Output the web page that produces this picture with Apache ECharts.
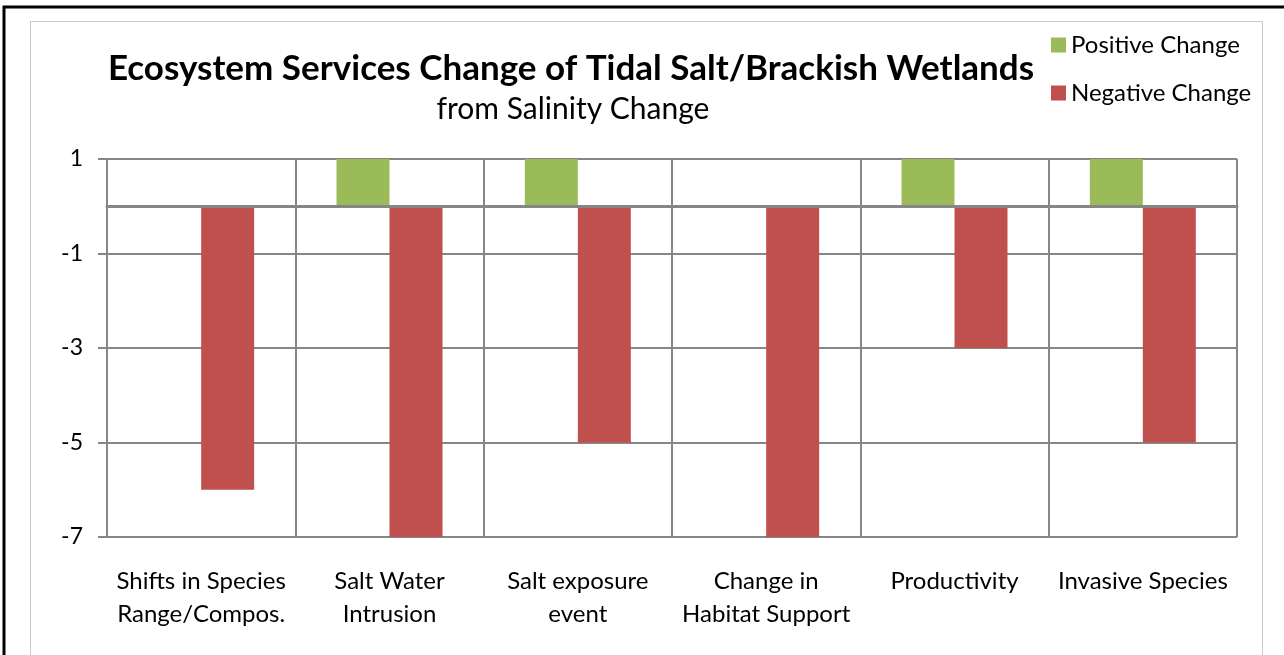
<!DOCTYPE html>
<html>
<head>
<meta charset="utf-8">
<script src="https://cdn.jsdelivr.net/npm/echarts@6/dist/echarts.min.js"></script>
<style>
  html, body { margin: 0; padding: 0; background: #fff; }
  #chart { width: 1284px; height: 655px; }
</style>
</head>
<body>
<div id="chart"></div>
<script>
var categories = ['Shifts in Species\nRange/Compos.', 'Salt Water\nIntrusion', 'Salt exposure\nevent',
  'Change in\nHabitat Support', 'Productivity', 'Invasive Species'];
var positiveChange = [0, 1, 1, 0, 1, 1];
var negativeChange = [-6, -7, -5, -7, -3, -5];
var yMin = -7, yMax = 1, yStep = 2;

var font = 'Lato, Calibri, sans-serif';
var gray = '#868686';

var myChart = echarts.init(document.getElementById('chart'));
var option = {
  backgroundColor: '#fff',
  color: ['#9bbb59', '#c0504d'],
  // 外框
  graphic: [
    { type: 'rect', shape: { x: 4, y: 7, width: 1300, height: 700 },
      style: { fill: 'none', stroke: '#000', lineWidth: 3 }, silent: true },
    { type: 'rect', shape: { x: 30.5, y: 21.5, width: 1232, height: 700 },
      style: { fill: 'none', stroke: '#c8c8c8', lineWidth: 1 }, silent: true }
  ],
  title: [
    { text: 'Ecosystem Services Change of Tidal Salt/Brackish Wetlands',
      left: 566, top: 46, textAlign: 'center',
      textStyle: { fontFamily: font, fontWeight: 'bold', fontSize: 35, color: '#000' } },
    { text: 'from Salinity Change',
      left: 568, top: 89, textAlign: 'center',
      textStyle: { fontFamily: font, fontWeight: 'normal', fontSize: 30, color: '#000' } }
  ],
  legend: {
    orient: 'vertical',
    left: 1046, top: 28,
    itemWidth: 15, itemHeight: 15, itemGap: 24,
    icon: 'rect',
    textStyle: { fontFamily: font, fontSize: 24, color: '#000' },
    data: ['Positive Change', 'Negative Change']
  },
  grid: { left: 107, right: 47, top: 159, bottom: 118, containLabel: false },
  xAxis: [{
    type: 'category',
    data: categories,
    axisLine: { show: false, onZero: false },
    axisTick: { show: false },
    splitLine: { show: true, lineStyle: { color: gray, width: 2 } },
    axisLabel: { fontFamily: font, fontSize: 24, color: '#000', lineHeight: 33, margin: 28, interval: 0 }
  }, {
    // 零线
    type: 'category',
    data: categories,
    z: 5,
    axisLine: { show: true, onZero: true, lineStyle: { color: gray, width: 3 } },
    axisTick: { show: false },
    axisLabel: { show: false },
    splitLine: { show: false }
  }],
  yAxis: {
    type: 'value',
    min: yMin, max: yMax, interval: yStep,
    axisLine: { show: true, lineStyle: { color: gray, width: 2 } },
    axisTick: { show: true, length: 9, lineStyle: { color: gray, width: 2 } },
    splitLine: { lineStyle: { color: gray, width: 2 } },
    axisLabel: { fontFamily: font, fontSize: 23, color: '#000', margin: 24 }
  },
  series: [
    { name: 'Positive Change', type: 'bar', data: positiveChange, barWidth: 53, barGap: '0%' },
    { name: 'Negative Change', type: 'bar', data: negativeChange, barWidth: 53, barGap: '0%' }
  ]
};
myChart.setOption(option);
window.addEventListener('resize', function () {
  myChart.resize();
});
</script>
</body>
</html>
